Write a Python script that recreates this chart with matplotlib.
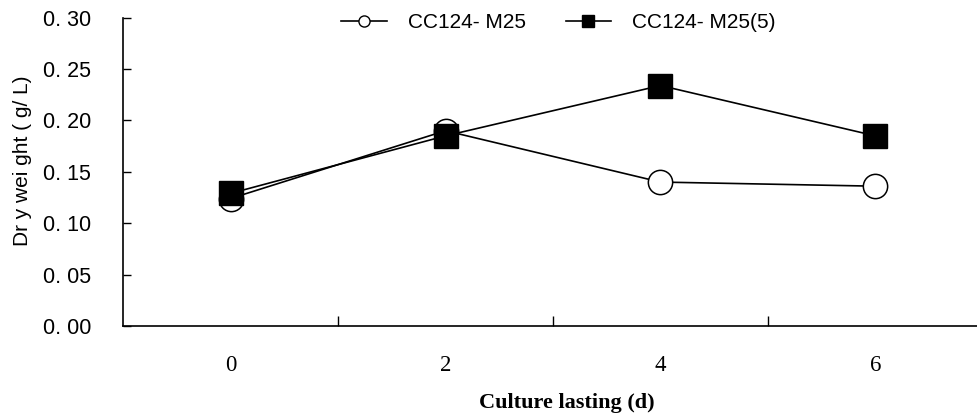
import matplotlib
matplotlib.use("Agg")
import matplotlib.pyplot as plt
from matplotlib.lines import Line2D

# culture days and dry weight (g/L) for the two strains
days = ["0", "2", "4", "6"]
cc124_m25 = [0.124, 0.190, 0.140, 0.136]
cc124_m25_5 = [0.129, 0.185, 0.234, 0.185]
series_names = ["CC124- M25", "CC124- M25(5)"]
yticks = [0.00, 0.05, 0.10, 0.15, 0.20, 0.25, 0.30]

SANS = "Liberation Sans"
SERIF = "Liberation Serif"

fig = plt.figure(figsize=(9.77, 4.13), dpi=100)
ax = fig.add_axes([0.126, 0.211, 0.880, 0.746])

xpos = [i + 0.5 for i in range(len(days))]
ax.plot(xpos, cc124_m25, color="black", lw=1.2, marker="o", ms=17.5,
        mfc="white", mec="black", mew=1.1, zorder=3)
ax.plot(xpos, cc124_m25_5, color="black", lw=1.2, marker="s", ms=17,
        mfc="black", mec="black", zorder=3)

ax.set_xlim(0, 4)
ax.set_ylim(0, 0.30)

for s in ("top", "right"):
    ax.spines[s].set_visible(False)
for s in ("left", "bottom"):
    ax.spines[s].set_linewidth(1.2)

# category separators on x, labels centred under each category
ax.set_xticks([1, 2, 3])
ax.set_xticklabels([])
ax.set_xticks(xpos, minor=True)
ax.set_xticklabels(days, minor=True, fontfamily=SERIF, fontsize=16.5)
ax.tick_params(axis="x", which="major", direction="in", length=7, width=1.0)
ax.tick_params(axis="x", which="minor", length=0, pad=21)

ax.set_yticks(yticks)
ax.set_yticklabels([f"{v:.2f}".replace(".", ". ") for v in yticks],
                   fontfamily=SANS, fontsize=15.5)
ax.tick_params(axis="y", direction="in", length=6, width=1.0, pad=23)

fig.text(0.023, 0.61, "Dr y wei ght ( g/ L)", rotation=90, ha="center",
         va="center", fontfamily=SANS, fontsize=15)
fig.text(0.58, 1 - 403 / 413, "Culture lasting (d)", ha="center", va="center",
         fontfamily=SERIF, fontweight="bold", fontsize=16)

handles = [
    Line2D([], [], color="black", lw=1.2, marker="o", ms=8, mfc="white", mec="black"),
    Line2D([], [], color="black", lw=1.2, marker="s", ms=8, mfc="black", mec="black"),
]
leg = ax.legend(handles, series_names, loc="upper left", bbox_to_anchor=(0.232, 1.075),
                ncol=2, frameon=False, handlelength=2.2, columnspacing=1.9,
                handletextpad=1.0, prop={"family": SANS, "size": 15})

fig.savefig("out.png", dpi=100)
